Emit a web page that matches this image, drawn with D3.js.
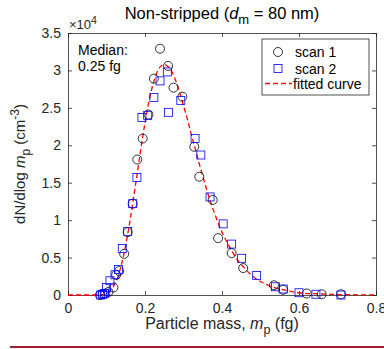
<!DOCTYPE html>
<html lang="en">
<head>
    <meta charset="UTF-8">
    <title>Non-stripped particle mass distribution</title>
    <style>
        body { margin: 0; background: #fff; }
        svg { display: block; font-family: "Liberation Sans", Arial, sans-serif; }
        .axis text { font-size: 14px; fill: #262626; }
        .axis path, .axis line { stroke: #262626; }
    </style>
</head>
<body>
    <svg id="chart" width="384" height="349"></svg>
    <script src="https://d3js.org/d3.v7.min.js"></script>
    <script>
        // scan 1 (circles), dN/dlog mp in units of 1e4 cm^-3
        var scan1X = [0.083, 0.090, 0.097, 0.105, 0.118, 0.125, 0.133, 0.146, 0.155, 0.168, 0.180, 0.194, 0.209, 0.223, 0.239, 0.260, 0.274, 0.297, 0.328, 0.341, 0.376, 0.390, 0.425, 0.455, 0.535, 0.559, 0.620, 0.659, 0.709];
        var scan1Y = [0.00, 0.01, 0.02, 0.04, 0.10, 0.27, 0.32, 0.55, 0.84, 1.22, 1.81, 2.09, 2.41, 2.89, 3.29, 3.06, 2.77, 2.65, 1.98, 1.58, 1.27, 0.76, 0.56, 0.36, 0.13, 0.07, 0.02, 0.01, 0.01];

        // scan 2 (squares)
        var scan2X = [0.085, 0.090, 0.095, 0.100, 0.109, 0.122, 0.131, 0.141, 0.155, 0.168, 0.179, 0.192, 0.207, 0.223, 0.239, 0.258, 0.261, 0.293, 0.330, 0.345, 0.369, 0.403, 0.425, 0.451, 0.490, 0.539, 0.559, 0.600, 0.644, 0.709];
        var scan2Y = [0.00, 0.01, 0.02, 0.10, 0.19, 0.27, 0.34, 0.62, 0.85, 1.22, 1.57, 2.37, 2.40, 2.64, 2.86, 2.98, 2.44, 2.60, 2.09, 1.87, 1.31, 0.95, 0.68, 0.49, 0.26, 0.11, 0.08, 0.03, 0.01, 0.00];

        // fitted curve
        var fitX = [0, 0.08, 0.10, 0.11, 0.12, 0.13, 0.14, 0.15, 0.16, 0.17, 0.18, 0.19, 0.20, 0.21, 0.22, 0.23, 0.24, 0.25, 0.26, 0.27, 0.28, 0.29, 0.30, 0.31, 0.32, 0.33, 0.34, 0.35, 0.36, 0.38, 0.40, 0.42, 0.44, 0.46, 0.48, 0.50, 0.53, 0.56, 0.60, 0.65, 0.70, 0.80];
        var fitY = [0, 0.00, 0.02, 0.06, 0.13, 0.25, 0.43, 0.67, 0.96, 1.29, 1.63, 1.98, 2.30, 2.58, 2.80, 2.96, 3.05, 3.08, 3.05, 2.98, 2.86, 2.71, 2.53, 2.35, 2.15, 1.96, 1.77, 1.59, 1.41, 1.10, 0.84, 0.64, 0.47, 0.35, 0.25, 0.18, 0.11, 0.07, 0.03, 0.015, 0.006, 0.001];

        var xTicks = [0, 0.2, 0.4, 0.6, 0.8];
        var yTicks = [0, 0.5, 1, 1.5, 2, 2.5, 3, 3.5];
        var legendLabels = ["scan 1", "scan 2", "fitted curve"];

        var margin = { top: 33, right: 8, bottom: 54, left: 68 },
            width = 384 - margin.left - margin.right,
            height = 349 - margin.top - margin.bottom;

        var svg = d3.select("#chart");
        var g = svg.append("g")
                   .attr("transform", "translate(" + margin.left + "," + margin.top + ")");

        var x = d3.scaleLinear().domain([0, 0.8]).range([0, width]);
        var y = d3.scaleLinear().domain([0, 3.5]).range([height, 0]);

        var scan1 = scan1X.map(function(v, i) { return [v, scan1Y[i]]; });
        var scan2 = scan2X.map(function(v, i) { return [v, scan2Y[i]]; });
        var fit = fitX.map(function(v, i) { return [v, fitY[i]]; });

        // Axes (box with inward ticks)
        g.append("g").attr("class", "axis")
         .attr("transform", "translate(0," + height + ")")
         .call(d3.axisBottom(x).tickValues(xTicks).tickSize(-4).tickPadding(8).tickFormat(d3.format("")));
        g.append("g").attr("class", "axis")
         .call(d3.axisTop(x).tickValues(xTicks).tickSize(-4).tickFormat(""));
        g.append("g").attr("class", "axis")
         .call(d3.axisLeft(y).tickValues(yTicks).tickSize(-4).tickPadding(7).tickFormat(d3.format("")));
        g.append("g").attr("class", "axis")
         .attr("transform", "translate(" + width + ",0)")
         .call(d3.axisRight(y).tickValues(yTicks).tickSize(-4).tickFormat(""));
        g.selectAll(".axis path").attr("stroke-width", 0.8);
        g.selectAll(".axis line").attr("stroke-width", 0.8);

        // Fitted curve
        var line = d3.line()
                     .x(function(d) { return x(d[0]); })
                     .y(function(d) { return y(d[1]); })
                     .curve(d3.curveMonotoneX);
        g.append("path")
         .datum(fit)
         .attr("d", line)
         .attr("fill", "none")
         .attr("stroke", "#ff0000")
         .attr("stroke-width", 1.3)
         .attr("stroke-dasharray", "5,3");

        // scan 1 circles
        g.selectAll(".s1")
         .data(scan1)
         .enter().append("circle")
         .attr("class", "s1")
         .attr("cx", function(d) { return x(d[0]); })
         .attr("cy", function(d) { return y(d[1]); })
         .attr("r", 4.5)
         .attr("fill", "none")
         .attr("stroke", "#000")
         .attr("stroke-width", 0.8);

        // scan 2 squares
        g.selectAll(".s2")
         .data(scan2)
         .enter().append("rect")
         .attr("class", "s2")
         .attr("x", function(d) { return x(d[0]) - 4; })
         .attr("y", function(d) { return y(d[1]) - 4; })
         .attr("width", 8)
         .attr("height", 8)
         .attr("fill", "none")
         .attr("stroke", "#0000ff")
         .attr("stroke-width", 0.8);

        // Median annotation
        g.append("text").attr("x", 10).attr("y", 22)
         .style("font-size", "14px").style("fill", "#000").text("Median:");
        g.append("text").attr("x", 10).attr("y", 38)
         .style("font-size", "14px").style("fill", "#000").text("0.25 fg");

        // Legend
        var lg = g.append("g").attr("transform", "translate(" + (262 - margin.left) + "," + (39 - margin.top) + ")");
        lg.append("rect").attr("width", 107).attr("height", 56)
          .attr("fill", "#fff").attr("stroke", "#262626").attr("stroke-width", 0.8);
        var rows = [13, 29.5, 44.5];
        lg.append("circle").attr("cx", 16).attr("cy", rows[0]).attr("r", 4.5)
          .attr("fill", "none").attr("stroke", "#000").attr("stroke-width", 0.8);
        lg.append("rect").attr("x", 12).attr("y", rows[1] - 4).attr("width", 8).attr("height", 8)
          .attr("fill", "none").attr("stroke", "#0000ff").attr("stroke-width", 0.8);
        lg.append("line").attr("x1", 3).attr("x2", 30).attr("y1", rows[2]).attr("y2", rows[2])
          .attr("stroke", "#ff0000").attr("stroke-width", 1.3).attr("stroke-dasharray", "5,3");
        lg.selectAll(".lt")
          .data(legendLabels)
          .enter().append("text")
          .attr("x", function(d, i) { return i < 2 ? 33 : 31; })
          .attr("y", function(d, i) { return rows[i] + 5; })
          .style("font-size", "14px").style("fill", "#000")
          .text(function(d) { return d; });

        // Exponent
        var ex = g.append("text").attr("x", 1).attr("y", -4)
                  .style("font-size", "13px").style("fill", "#262626");
        ex.append("tspan").text("\u00d710");
        ex.append("tspan").attr("dy", -5).style("font-size", "10.5px").text("4");

        // Title
        var t = svg.append("text").attr("x", margin.left + width / 2).attr("y", 19)
                   .attr("text-anchor", "middle").style("font-size", "16.5px").style("fill", "#000");
        t.append("tspan").text("Non-stripped (");
        t.append("tspan").style("font-style", "italic").text("d");
        t.append("tspan").attr("dy", 5).style("font-size", "13px").text("m");
        t.append("tspan").attr("dy", -5).text(" = 80 nm)");

        // X axis label
        var xl = svg.append("text").attr("x", margin.left + width / 2).attr("y", 329)
                    .attr("text-anchor", "middle").style("font-size", "16px").style("fill", "#262626");
        xl.append("tspan").text("Particle mass, ");
        xl.append("tspan").style("font-style", "italic").text("m");
        xl.append("tspan").attr("dy", 5).style("font-size", "12.5px").text("p");
        xl.append("tspan").attr("dy", -5).text(" (fg)");

        // Y axis label
        var yl = svg.append("text")
                    .attr("transform", "translate(25," + (margin.top + height / 2) + ") rotate(-90)")
                    .attr("text-anchor", "middle").style("font-size", "15px").style("fill", "#262626");
        yl.append("tspan").text("dN/dlog ");
        yl.append("tspan").style("font-style", "italic").text("m");
        yl.append("tspan").attr("dy", 5).style("font-size", "12px").text("p");
        yl.append("tspan").attr("dy", -5).text(" (cm");
        yl.append("tspan").attr("dy", -6).style("font-size", "12px").text("-3");
        yl.append("tspan").attr("dy", 6).text(")");

        // Dark red rule at the bottom
        svg.append("line").attr("x1", 10).attr("x2", 384).attr("y1", 347).attr("y2", 347)
           .attr("stroke", "#a31f34").attr("stroke-width", 2);
    </script>
</body>
</html>
